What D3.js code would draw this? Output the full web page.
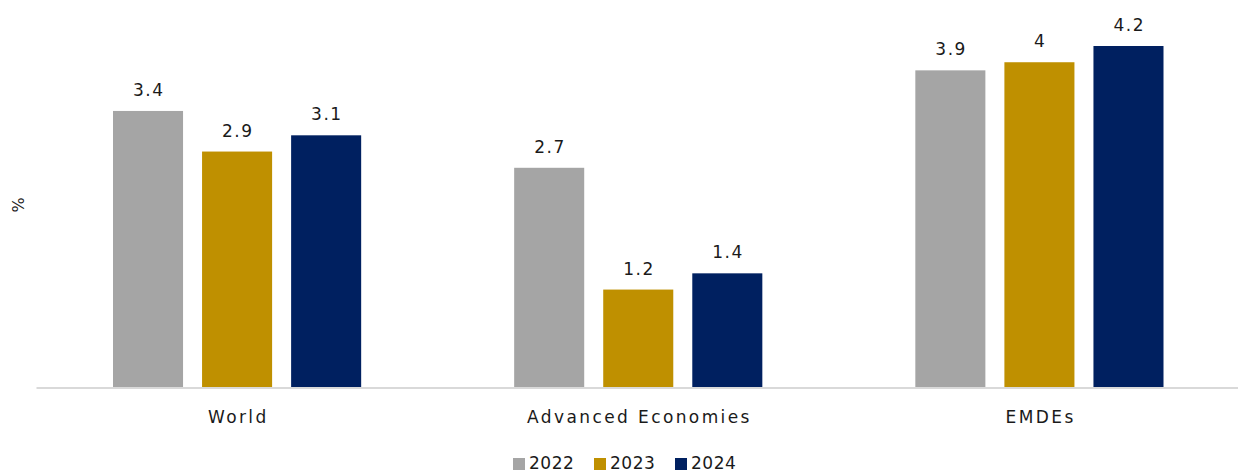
<!DOCTYPE html>
<html><head><meta charset="utf-8">
<script src="https://cdn.jsdelivr.net/npm/d3@7"></script>
<style>body{margin:0;background:#fff;}svg{display:block;font-family:"DejaVu Sans",sans-serif;}</style>
</head><body>
<svg id="c" width="1238" height="473"></svg>
<script>
const categories = ["World", "Advanced Economies", "EMDEs"];
const seriesNames = ["2022", "2023", "2024"];
const values2022 = [3.4, 2.7, 3.9];
const values2023 = [2.9, 1.2, 4];
const values2024 = [3.1, 1.4, 4.2];
const colors = ["#a5a5a5", "#bf9000", "#002060"];
const seriesValues = [values2022, values2023, values2024];

const svg = d3.select("#c");
const left = 36.5, right = 1240, baseY = 387;
const x0 = d3.scaleBand().domain(categories).range([left, right]).paddingInner(0).paddingOuter(0);
const x1 = d3.scaleBand().domain(seriesNames).range([76.5, x0.bandwidth() - 76.5]).paddingInner(19/89);
const y = d3.scaleLinear().domain([0, 4.2]).range([baseY, 46]);

categories.forEach((c, ci) => {
  const g = svg.append("g").attr("transform", `translate(${x0(c)},0)`);
  seriesNames.forEach((s, si) => {
    const v = seriesValues[si][ci];
    g.append("rect").attr("x", x1(s)).attr("width", x1.bandwidth())
      .attr("y", y(v)).attr("height", baseY - y(v)).attr("fill", colors[si]);
    g.append("text").attr("x", x1(s) + x1.bandwidth()/2 + 0.75).attr("y", y(v) - 15)
      .attr("text-anchor", "middle").attr("font-size", 17).attr("letter-spacing", 1.5)
      .attr("fill", "#1a1a1a").text(v);
  });
  g.append("text").attr("x", x0.bandwidth()/2 + 1.2).attr("y", 423).attr("text-anchor", "middle")
    .attr("font-size", 17).attr("letter-spacing", 2.4).attr("fill", "#1a1a1a").text(c);
});

svg.append("line").attr("x1", left).attr("x2", 1238).attr("y1", baseY + 1).attr("y2", baseY + 1)
  .attr("stroke", "#d9d9d9").attr("stroke-width", 2);

svg.append("text").attr("transform", "translate(24,205) rotate(-90)").attr("text-anchor", "middle")
  .attr("font-size", 16).attr("fill", "#1a1a1a").text("%");

const leg = svg.append("g");
const legX = [513, 594, 675];
seriesNames.forEach((s, i) => {
  leg.append("rect").attr("x", legX[i]).attr("y", 458).attr("width", 12).attr("height", 12).attr("fill", colors[i]);
  leg.append("text").attr("x", legX[i] + 16).attr("y", 469).attr("font-size", 17).attr("letter-spacing", 0.5)
    .attr("fill", "#1a1a1a").text(s);
});
</script>
</body></html>
